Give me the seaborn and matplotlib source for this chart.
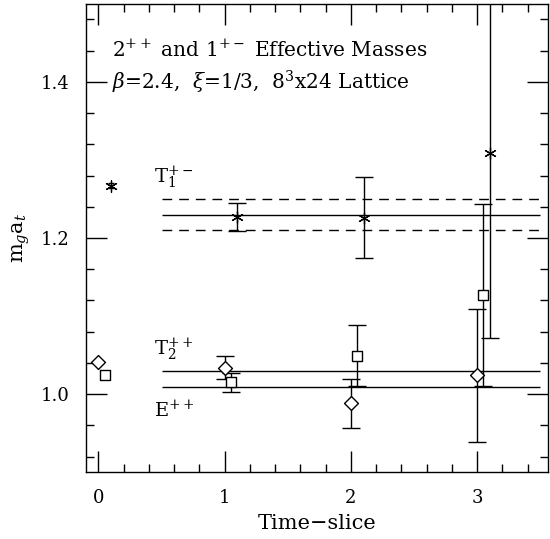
import matplotlib
matplotlib.use("Agg")
import matplotlib.pyplot as plt
import seaborn as sns
from matplotlib.ticker import MultipleLocator

sns.set_style("ticks")
plt.rcParams['font.family'] = ['DejaVu Serif']
plt.rcParams['mathtext.fontset'] = 'dejavuserif'
plt.rcParams['text.color'] = 'black'
plt.rcParams['axes.labelcolor'] = 'black'
plt.rcParams['xtick.color'] = 'black'
plt.rcParams['ytick.color'] = 'black'

# T1+- effective masses (asterisks)
t1_x = [0.1, 1.1, 2.1, 3.1]
t1_y = [1.267, 1.227, 1.226, 1.309]
t1_err = [0.003, 0.018, 0.052, 0.237]

# T2++ effective masses (squares)
t2_x = [0.05, 1.05, 2.05, 3.05]
t2_y = [1.024, 1.015, 1.049, 1.127]
t2_err = [0.003, 0.012, 0.039, 0.117]

# E++ effective masses (diamonds)
e_x = [0.0, 1.0, 2.0, 3.0]
e_y = [1.041, 1.034, 0.988, 1.024]
e_err = [0.003, 0.015, 0.031, 0.085]

# fitted masses
fit_t1 = 1.23
fit_t1_err = 0.02
fit_t2 = 1.030
fit_e = 1.009
fit_range = [0.5, 3.5]

fig = plt.figure(figsize=(5.5, 5.39), dpi=100)
ax = fig.add_axes([0.156, 0.124, 0.84, 0.869])

# error bars (time-slice 0 errors are tiny, caps hidden inside the marker)
for xs, ys, es in [(t1_x, t1_y, t1_err), (t2_x, t2_y, t2_err), (e_x, e_y, e_err)]:
    ax.errorbar(xs[1:], ys[1:], yerr=es[1:], fmt='none', ecolor='black',
                elinewidth=1.0, capsize=6.5, capthick=1.0, zorder=2)
    ax.errorbar(xs[:1], ys[:1], yerr=es[:1], fmt='none', ecolor='black',
                elinewidth=1.0, capsize=2.5, capthick=1.0, zorder=2)

# markers
sns.scatterplot(x=t1_x, y=t1_y, marker=(6, 2, 0), s=70, color='black',
                linewidth=0.9, ax=ax, zorder=3)
sns.scatterplot(x=t2_x, y=t2_y, marker='s', s=60, facecolor='white',
                edgecolor='black', linewidth=1.0, ax=ax, zorder=3)
sns.scatterplot(x=e_x, y=e_y, marker='D', s=50, facecolor='white',
                edgecolor='black', linewidth=1.0, ax=ax, zorder=3)

# fit lines
ax.hlines(fit_t1, *fit_range, color='black', lw=1.0)
ax.hlines([fit_t1 - fit_t1_err, fit_t1 + fit_t1_err], *fit_range, color='black',
          lw=1.0, linestyles=(0, (7, 5)))
ax.hlines([fit_t2, fit_e], *fit_range, color='black', lw=1.0)

# labels
ax.text(0.44, 1.2705, r'T$_1^{+-}$', fontsize=14, va='baseline')
ax.text(0.44, 1.050, r'T$_2^{++}$', fontsize=14, va='baseline')
ax.text(0.44, 0.9705, r'E$^{++}$', fontsize=14, va='baseline')
ax.text(0.107, 1.432, r'2$^{++}$ and 1$^{+-}$ Effective Masses', fontsize=14.5, va='baseline')
ax.text(0.107, 1.39, r'$\beta$=2.4,  $\xi$=1/3,  8$^3$x24 Lattice', fontsize=14.5, va='baseline')

ax.set_xlim(-0.1, 3.56)
ax.set_ylim(0.9, 1.5)
ax.xaxis.set_major_locator(MultipleLocator(1))
ax.xaxis.set_minor_locator(MultipleLocator(0.2))
ax.yaxis.set_major_locator(MultipleLocator(0.2))
ax.yaxis.set_minor_locator(MultipleLocator(0.04))
ax.tick_params(which='both', direction='in', top=True, right=True, labelsize=13,
               width=1.0)
ax.tick_params(which='major', length=15, pad=12)
ax.tick_params(which='minor', length=6)
ax.set_yticks([1.0, 1.2, 1.4])
ax.set_yticklabels(['1.0', '1.2', '1.4'])
for s in ax.spines.values():
    s.set_color('black')
    s.set_linewidth(1.0)

ax.set_xlabel('Time\u2212slice', fontsize=15, labelpad=5)
ax.set_ylabel(r'm$_g$a$_t$', fontsize=15, labelpad=6)

fig.savefig('out.png', dpi=100)
